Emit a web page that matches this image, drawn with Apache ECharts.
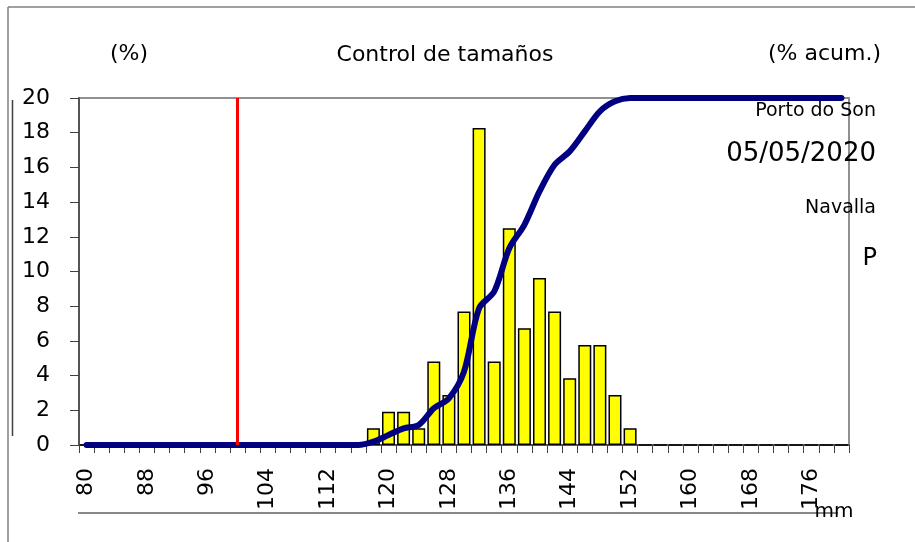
<!DOCTYPE html>
<html>
<head>
<meta charset="utf-8">
<script src="https://cdn.jsdelivr.net/npm/echarts@6/dist/echarts.min.js"></script>
<style>
  html, body { margin: 0; padding: 0; background: #fff; }
  #chart { width: 915px; height: 542px; }
</style>
</head>
<body>
<div id="chart"></div>
<script>
const FONT = 'DejaVu Sans';

// size classes, mm (2 mm steps)
const sizes = ['80','82','84','86','88','90','92','94','96','98',
  '100','102','104','106','108','110','112','114','116','118',
  '120','122','124','126','128','130','132','134','136','138',
  '140','142','144','146','148','150','152','154','156','158',
  '160','162','164','166','168','170','172','174','176','178','180'];

// frequency (%)
const freq = [0,0,0,0,0,0,0,0,0,0,
  0,0,0,0,0,0,0,0,0,0.96,
  1.92,1.92,0.96,4.81,2.88,7.69,18.27,4.81,12.5,6.73,
  9.62,7.69,3.85,5.77,5.77,2.88,0.96,0,0,0,
  0,0,0,0,0,0,0,0,0,0,0];

// cumulative (%)
const cumul = [0,0,0,0,0,0,0,0,0,0,
  0,0,0,0,0,0,0,0,0,0.96,
  2.88,4.81,5.77,10.58,13.46,21.15,39.42,44.23,56.73,63.46,
  73.08,80.77,84.62,90.38,96.15,99.04,100,100,100,100,
  100,100,100,100,100,100,100,100,100,100,100];

const minSize = '100';

var chart = echarts.init(document.getElementById('chart'));
chart.setOption({
  animation: false,
  textStyle: { fontFamily: FONT },
  grid: {
    left: 79, right: 66, top: 98, bottom: 97,
    show: true,
    borderColor: '#909090',
    borderWidth: 2
  },
  xAxis: {
    type: 'category',
    data: sizes,
    boundaryGap: true,
    axisLine: { lineStyle: { color: '#404040', width: 1.5 } },
    axisTick: { show: true, interval: 0, length: 8, lineStyle: { color: '#404040' } },
    axisLabel: {
      interval: 3,
      rotate: 90,
      margin: 23,
      fontSize: 22,
      fontFamily: FONT,
      color: '#000'
    },
    splitLine: { show: false }
  },
  yAxis: [
    {
      type: 'value',
      min: 0, max: 20, interval: 2,
      axisLine: { show: true, lineStyle: { color: '#404040', width: 1.5 } },
      axisTick: { show: true, length: 9, lineStyle: { color: '#404040' } },
      axisLabel: { margin: 29, fontSize: 22, fontFamily: FONT, color: '#000' },
      splitLine: { show: false }
    },
    {
      type: 'value',
      min: 0, max: 100,
      show: false
    }
  ],
  series: [
    {
      name: '%',
      type: 'bar',
      data: freq,
      barWidth: 13,
      itemStyle: { color: '#ffff00', borderColor: '#000', borderWidth: 1.5 }
    },
    {
      name: '% acum.',
      type: 'line',
      yAxisIndex: 1,
      data: cumul,
      smooth: 0.3,
      symbol: 'none',
      lineStyle: { color: '#000080', width: 6, cap: 'round', join: 'round' },
      markLine: {
        silent: true,
        symbol: 'none',
        label: { show: false },
        lineStyle: { color: '#ff0000', width: 3, type: 'solid' },
        data: [{ xAxis: minSize }]
      }
    }
  ],
  graphic: [
    { type: 'line', shape: { x1: 8, y1: 7, x2: 915, y2: 7 }, style: { stroke: '#808080', lineWidth: 1.5 } },
    { type: 'line', shape: { x1: 8, y1: 7, x2: 8, y2: 542 }, style: { stroke: '#808080', lineWidth: 1.5 } },
    { type: 'line', shape: { x1: 12.5, y1: 100, x2: 12.5, y2: 436 }, style: { stroke: '#404040', lineWidth: 1.5 } },
    { type: 'line', shape: { x1: 78, y1: 513, x2: 838, y2: 513 }, style: { stroke: '#606060', lineWidth: 1.5 } },
    { type: 'text', x: 129, y: 54, style: { text: '(%)', font: '22px ' + FONT, fill: '#000', textAlign: 'center', textVerticalAlign: 'middle' } },
    { type: 'text', x: 445, y: 55, style: { text: 'Control de tamaños', font: '22px ' + FONT, fill: '#000', textAlign: 'center', textVerticalAlign: 'middle' } },
    { type: 'text', x: 881, y: 54, style: { text: '(% acum.)', font: '22px ' + FONT, fill: '#000', textAlign: 'right', textVerticalAlign: 'middle' } },
    { type: 'text', x: 876, y: 111, style: { text: 'Porto do Son', font: '19px ' + FONT, fill: '#000', textAlign: 'right', textVerticalAlign: 'middle' } },
    { type: 'text', x: 876, y: 154, style: { text: '05/05/2020', font: '26px ' + FONT, fill: '#000', textAlign: 'right', textVerticalAlign: 'middle' } },
    { type: 'text', x: 876, y: 208, style: { text: 'Navalla', font: '19px ' + FONT, fill: '#000', textAlign: 'right', textVerticalAlign: 'middle' } },
    { type: 'text', x: 877, y: 259, style: { text: 'P', font: '24px ' + FONT, fill: '#000', textAlign: 'right', textVerticalAlign: 'middle' } },
    { type: 'text', x: 834, y: 512, style: { text: 'mm', font: '20px ' + FONT, fill: '#000', textAlign: 'center', textVerticalAlign: 'middle' } }
  ]
});
</script>
</body>
</html>
